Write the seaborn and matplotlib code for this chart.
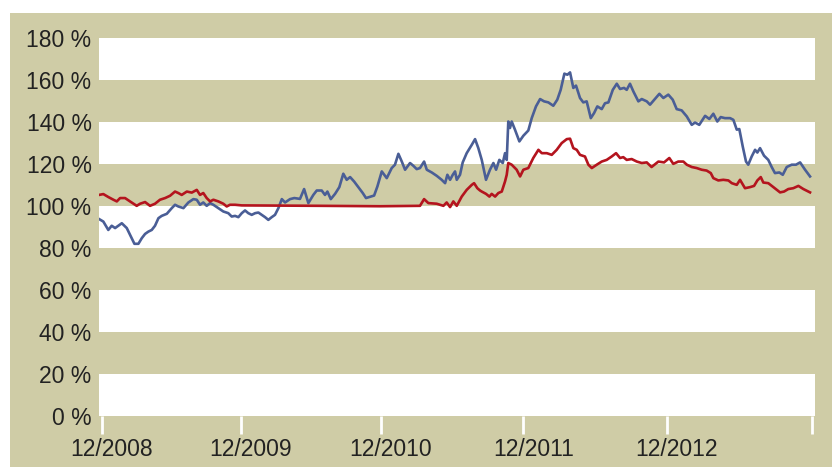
import pandas as pd
import matplotlib.pyplot as plt
import matplotlib.transforms as mtrans
from matplotlib.patches import Rectangle
import seaborn as sns

# x positions as decimal years, values in %
blue_x = [
    2008.903, 2008.933, 2008.968, 2008.992, 2009.016, 2009.039, 2009.063, 2009.098, 2009.121, 2009.152,
    2009.180, 2009.204, 2009.227, 2009.250, 2009.274, 2009.297, 2009.321, 2009.344, 2009.380, 2009.415,
    2009.438, 2009.461, 2009.497, 2009.532, 2009.567, 2009.591, 2009.614, 2009.637, 2009.661, 2009.685,
    2009.708, 2009.743, 2009.778, 2009.813, 2009.837, 2009.861, 2009.884, 2009.908, 2009.931, 2009.954,
    2009.978, 2010.002, 2010.025, 2010.049, 2010.072, 2010.095, 2010.119, 2010.142, 2010.166, 2010.190,
    2010.213, 2010.248, 2010.278, 2010.318, 2010.347, 2010.377, 2010.412, 2010.436, 2010.471, 2010.494,
    2010.511, 2010.535, 2010.565, 2010.595, 2010.623, 2010.647, 2010.671, 2010.699, 2010.729, 2010.760,
    2010.783, 2010.816, 2010.840, 2010.863, 2010.894, 2010.929, 2010.964, 2010.987, 2011.011, 2011.035,
    2011.058, 2011.093, 2011.116, 2011.140, 2011.163, 2011.192, 2011.211, 2011.246, 2011.281, 2011.316,
    2011.340, 2011.356, 2011.375, 2011.394, 2011.410, 2011.422, 2011.445, 2011.464, 2011.492, 2011.528,
    2011.551, 2011.574, 2011.598, 2011.628, 2011.656, 2011.680, 2011.699, 2011.722, 2011.746, 2011.762,
    2011.774, 2011.785, 2011.797, 2011.809, 2011.832, 2011.863, 2011.891, 2011.926, 2011.950, 2011.980,
    2012.009, 2012.037, 2012.067, 2012.102, 2012.130, 2012.154, 2012.180, 2012.201, 2012.220, 2012.243,
    2012.262, 2012.290, 2012.313, 2012.337, 2012.366, 2012.389, 2012.412, 2012.443, 2012.466, 2012.490,
    2012.521, 2012.549, 2012.572, 2012.600, 2012.619, 2012.642, 2012.666, 2012.701, 2012.725, 2012.760,
    2012.783, 2012.849, 2012.877, 2012.912, 2012.943, 2012.971, 2013.006, 2013.042, 2013.077, 2013.100,
    2013.130, 2013.171, 2013.201, 2013.229, 2013.257, 2013.281, 2013.311, 2013.347, 2013.370, 2013.394,
    2013.412, 2013.436, 2013.459, 2013.475, 2013.499, 2013.523, 2013.539, 2013.558, 2013.586, 2013.616,
    2013.640, 2013.663, 2013.694, 2013.718, 2013.746, 2013.781, 2013.811, 2013.840, 2013.875, 2013.910]
blue_y = [
    93.7, 92.5, 88.5, 90.5, 89.4, 90.5, 91.7, 89.4, 86.2, 81.9,
    81.9, 84.6, 86.6, 87.7, 88.5, 90.5, 94.1, 95.2, 96.2, 98.9,
    100.5, 99.7, 98.9, 101.6, 103.2, 102.9, 100.5, 101.6, 100.0, 101.3,
    100.5, 98.9, 97.3, 96.5, 94.9, 95.2, 94.6, 96.5, 97.8, 96.5,
    95.7, 96.5, 96.8, 95.7, 94.6, 93.3, 94.6, 95.7, 98.9, 103.2,
    101.6, 103.2, 103.7, 103.3, 108.0, 101.3, 105.2, 107.3, 107.3, 105.2,
    106.8, 103.2, 105.7, 108.9, 115.3, 112.4, 113.7, 111.6, 108.9, 106.1,
    103.7, 104.4, 104.9, 109.2, 116.4, 113.2, 118.0, 119.6, 124.8, 121.1,
    117.2, 120.4, 119.1, 117.5, 118.0, 121.1, 117.2, 115.9, 114.3, 112.4,
    110.8, 114.8, 112.4, 114.8, 116.4, 112.4, 114.8, 120.7, 125.1, 129.1,
    131.8, 127.5, 121.9, 112.4, 117.2, 120.4, 117.2, 121.9, 120.4, 125.1,
    121.9, 140.2, 137.1, 140.2, 136.3, 130.7, 133.4, 135.9, 141.8, 147.4,
    150.9, 149.8, 149.3, 147.7, 150.6, 155.3, 163.0, 162.5, 163.6, 156.2,
    157.3, 151.4, 149.3, 149.8, 141.8, 144.2, 147.4, 146.1, 148.9, 149.3,
    155.3, 158.2, 155.7, 156.2, 155.3, 158.2, 154.5, 149.8, 150.9, 149.8,
    148.2, 153.4, 151.4, 153.0, 150.6, 146.1, 145.5, 142.6, 138.6, 139.7,
    138.6, 142.9, 141.4, 143.9, 140.2, 142.3, 141.8, 141.8, 141.0, 136.3,
    136.6, 128.3, 121.1, 119.6, 123.5, 126.7, 125.4, 127.5, 123.9, 121.9,
    118.5, 115.6, 115.9, 114.8, 118.5, 119.6, 119.6, 120.7, 117.2, 114.0]

red_x = [
    2008.903, 2008.933, 2008.968, 2009.004, 2009.028, 2009.051, 2009.086, 2009.121, 2009.168, 2009.192,
    2009.227, 2009.262, 2009.297, 2009.332, 2009.368, 2009.403, 2009.438, 2009.461, 2009.485, 2009.521,
    2009.556, 2009.591, 2009.614, 2009.637, 2009.661, 2009.685, 2009.708, 2009.743, 2009.778, 2009.802,
    2009.825, 2009.861, 2009.908, 2010.459, 2010.882, 2011.163, 2011.192, 2011.222, 2011.281, 2011.328,
    2011.351, 2011.375, 2011.398, 2011.422, 2011.457, 2011.492, 2011.528, 2011.544, 2011.567, 2011.586,
    2011.598, 2011.628, 2011.652, 2011.668, 2011.692, 2011.715, 2011.739, 2011.762, 2011.774, 2011.785,
    2011.809, 2011.844, 2011.868, 2011.891, 2011.926, 2011.961, 2011.997, 2012.021, 2012.056, 2012.091,
    2012.126, 2012.161, 2012.197, 2012.220, 2012.243, 2012.267, 2012.290, 2012.325, 2012.349, 2012.373,
    2012.408, 2012.443, 2012.478, 2012.513, 2012.544, 2012.572, 2012.595, 2012.619, 2012.654, 2012.690,
    2012.725, 2012.760, 2012.794, 2012.842, 2012.882, 2012.919, 2012.947, 2012.982, 2013.018, 2013.042,
    2013.077, 2013.112, 2013.147, 2013.182, 2013.211, 2013.229, 2013.264, 2013.299, 2013.335, 2013.359,
    2013.394, 2013.417, 2013.452, 2013.487, 2013.516, 2013.539, 2013.563, 2013.581, 2013.616, 2013.652,
    2013.699, 2013.727, 2013.757, 2013.792, 2013.828, 2013.863, 2013.910]
red_y = [
    105.2, 105.6, 104.2, 102.9, 102.1, 103.7, 103.7, 102.1, 100.0, 101.0,
    101.8, 100.0, 101.0, 102.9, 103.7, 104.8, 106.8, 106.1, 105.2, 106.8,
    106.3, 107.6, 105.2, 106.1, 103.7, 102.1, 102.9, 102.1, 101.0, 99.7,
    100.5, 100.5, 100.2, 100.0, 99.8, 100.0, 103.2, 101.3, 101.0, 100.0,
    101.6, 99.4, 102.1, 100.0, 104.4, 107.6, 110.0, 110.8, 108.4, 107.3,
    106.8, 105.7, 104.4, 105.7, 104.4, 106.1, 106.8, 111.6, 114.8, 120.4,
    119.6, 117.2, 114.0, 117.2, 118.0, 122.8, 126.7, 125.1, 125.1, 124.3,
    126.7, 129.9, 131.8, 132.0, 127.5, 126.7, 124.3, 123.5, 119.6, 118.0,
    119.6, 121.1, 121.9, 123.5, 125.1, 122.8, 123.2, 121.9, 122.3, 121.1,
    120.4, 120.7, 118.5, 121.1, 120.7, 122.8, 120.0, 121.1, 121.1, 119.6,
    118.5, 118.0, 117.2, 116.8, 115.6, 113.2, 112.1, 112.4, 112.1, 110.8,
    110.0, 112.4, 108.4, 108.9, 109.5, 112.1, 113.7, 111.1, 110.8, 108.9,
    106.4, 106.8, 108.0, 108.4, 109.5, 108.0, 106.4]

tick_pos = [2008.922, 2009.901, 2010.887, 2011.891, 2012.901, 2013.924]
tick_labels = ['12/2008', '12/2009', '12/2010', '12/2011', '12/2012', '']
y_ticks = [0, 20, 40, 60, 80, 100, 120, 140, 160, 180]

tan = '#cfcca6'
blue = '#4a5e96'
red = '#b4141e'

plt.rcParams['font.family'] = ['Liberation Sans', 'DejaVu Sans']

df = pd.concat([
    pd.DataFrame({'t': blue_x, 'v': blue_y, 'series': 'a'}),
    pd.DataFrame({'t': red_x, 'v': red_y, 'series': 'b'}),
], ignore_index=True)

fig = plt.figure(figsize=(8.32, 4.67), dpi=100)
fig.add_artist(Rectangle((10 / 832, 0), 1, 454 / 467, transform=fig.transFigure,
                         facecolor=tan, edgecolor='none', zorder=-1))

ax = fig.add_axes([98.5 / 832, 1 - 415.6 / 467, (815 - 98.5) / 832, (415.6 - 38) / 467])
ax.set_facecolor('white')
for lo in [20, 60, 100, 140]:
    ax.axhspan(lo, lo + 20, facecolor=tan, lw=0, zorder=0)

sns.lineplot(data=df, x='t', y='v', hue='series', palette={'a': blue, 'b': red},
             estimator=None, sort=False, lw=1.9, legend=False, ax=ax)

ax.set_xlim(2008.899, 2013.945)
ax.set_ylim(0, 180)
ax.set_xticks(tick_pos)
ax.set_xticklabels(tick_labels)
ax.set_yticks(y_ticks)
ax.set_yticklabels([f'{v} %' for v in y_ticks])
ax.set_xlabel('')
ax.set_ylabel('')
for s in ax.spines.values():
    s.set_visible(False)

ax.tick_params(axis='x', length=13, width=2, color='white', pad=3,
               labelsize=16.5, labelcolor='#222222')
ax.tick_params(axis='y', length=0, pad=5, labelsize=16.5, labelcolor='#222222')

# labels sit a little right of their ticks in the original
shift = mtrans.ScaledTranslation(0.1, 0, fig.dpi_scale_trans)
for lab in ax.get_xticklabels():
    lab.set_transform(lab.get_transform() + shift)

plt.savefig('out.png', dpi=100)
